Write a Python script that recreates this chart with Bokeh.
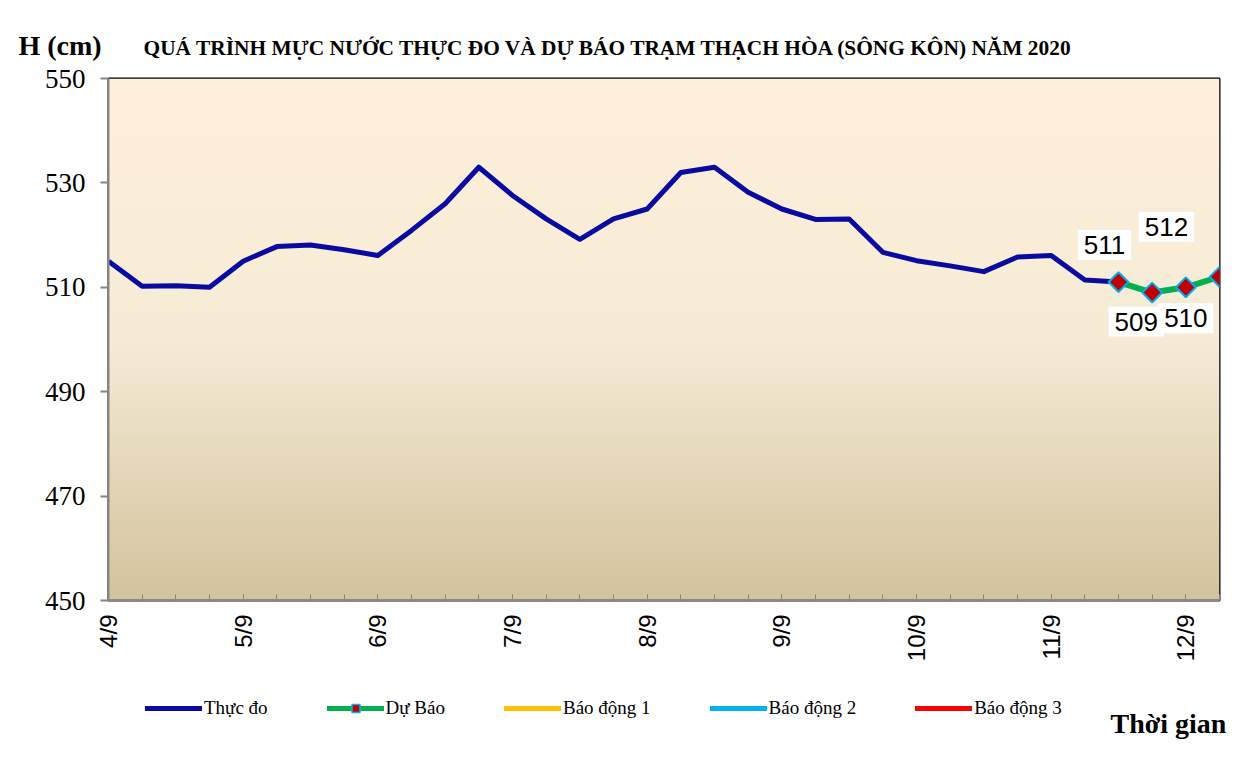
import numpy as np
from bokeh.plotting import figure
from bokeh.layouts import column
from bokeh.models import Range1d, FixedTicker, Label, Legend, LegendItem
from bokeh.embed import file_html
from bokeh.resources import INLINE

# ---------------- data ----------------
day_hours = [0, 24, 48, 72, 96, 120, 144, 168, 192]
day_labels = ["4/9", "5/9", "6/9", "7/9", "8/9", "9/9", "10/9", "11/9", "12/9"]

obs_hours = [0, 6, 12, 18, 24, 30, 36, 42, 48, 54, 60, 66, 72, 78, 84, 90,
             96, 102, 108, 114, 120, 126, 132, 138, 144, 150, 156, 162, 168, 174, 180]
obs_level = [515.0, 510.2, 510.3, 510.0, 515.0, 517.8, 518.1, 517.2, 516.1, 520.9,
             526.0, 533.0, 527.6, 523.1, 519.2, 523.1, 525.0, 532.0, 533.0, 528.2,
             525.0, 523.0, 523.1, 516.7, 515.1, 514.1, 513.0, 515.8, 516.1, 511.4, 511.0]

fc_hours = [180, 186, 192, 198]
fc_level = [511, 509, 510, 512]

y_ticks = [450, 470, 490, 510, 530, 550]

legend_names = ["Thực đo", "Dự Báo", "Báo động 1", "Báo động 2", "Báo động 3"]
title_text = "QUÁ TRÌNH MỰC NƯỚC THỰC ĐO VÀ DỰ BÁO TRẠM THẠCH HÒA (SÔNG KÔN) NĂM  2020"
y_title = "H (cm)"
x_title = "Thời gian"

# colours
c_obs, c_fc, c_fc_marker, c_fc_edge = "#0A0AA0", "#00B050", "#C00000", "#00B0F0"
c_alarm = ["#FFC000", "#00B0F0", "#FF0000"]

# label offsets (style) for forecast value labels
label_offsets = [(-14, 37), (-16, -29), (0, -31), (-53, 50)]

W = 1228
HEAD_H, MAIN_H, FOOT_H = 62, 618, 75

# ---------------- header (titles) ----------------
head = figure(width=W, height=HEAD_H, output_backend="svg", toolbar_location=None,
              x_range=Range1d(0, W), y_range=Range1d(0, HEAD_H),
              x_axis_type=None, y_axis_type=None, min_border=0)
head.frame_align = False
head.outline_line_color = None
head.background_fill_color = "white"
head.border_fill_color = "white"
head.add_layout(Label(x=18, y=HEAD_H - 45, text=y_title, text_color="black",
                      text_font="Liberation Serif", text_font_style="bold",
                      text_font_size="28px", text_baseline="middle", text_align="left"))
head.add_layout(Label(x=143, y=HEAD_H - 47, text=title_text, text_color="black",
                      text_font="Liberation Serif", text_font_style="bold",
                      text_font_size="21.4px", text_baseline="middle", text_align="left"))

# ---------------- main chart ----------------
p = figure(width=W, height=MAIN_H, output_backend="svg", toolbar_location=None,
           x_range=Range1d(0, 198), y_range=Range1d(450, 550),
           min_border_left=108, min_border_right=9, min_border_top=16,
           min_border_bottom=80)
p.frame_align = False
p.xgrid.visible = False
p.ygrid.visible = False
p.background_fill_color = "#F6ECD6"
p.border_fill_color = "white"
p.outline_line_color = "black"
p.outline_line_width = 2

# gradient background of the plot area
stops = [(0.0, (211, 196, 158)), (0.5, (246, 236, 214)), (1.0, (255, 240, 220))]
n = 256
t = np.linspace(0, 1, n)
rgb = np.zeros((n, 3))
for c in range(3):
    rgb[:, c] = np.interp(t, [s[0] for s in stops], [s[1][c] for s in stops])
img = np.zeros((n, 1), dtype=np.uint32)
view = img.view(dtype=np.uint8).reshape((n, 1, 4))
view[:, 0, 0] = rgb[:, 0].astype(np.uint8)
view[:, 0, 1] = rgb[:, 1].astype(np.uint8)
view[:, 0, 2] = rgb[:, 2].astype(np.uint8)
view[:, 0, 3] = 255
xr0, xr1 = p.x_range.start, p.x_range.end
yr0, yr1 = p.y_range.start, p.y_range.end
p.image_rgba(image=[img], x=xr0, y=yr0, dw=xr1 - xr0, dh=yr1 - yr0)

# series
p.line(obs_hours, obs_level, line_color=c_obs, line_width=5, line_join="round")
p.line(fc_hours, fc_level, line_color=c_fc, line_width=6, line_join="round")
p.scatter(fc_hours, fc_level, marker="square", angle=np.pi / 4, size=14,
          fill_color=c_fc_marker, line_color=c_fc_edge, line_width=2)

# value labels
for (xv, yv, (dx, dy)) in zip(fc_hours, fc_level, label_offsets):
    p.add_layout(Label(x=xv, y=yv, text=str(yv), x_offset=dx, y_offset=dy,
                       text_align="center", text_baseline="middle",
                       text_font="Liberation Sans", text_font_size="26px",
                       text_color="black", background_fill_color="white",
                       padding=6))

# axes
yax = p.yaxis[0]
yax.ticker = FixedTicker(ticks=y_ticks)
yax.minor_tick_line_color = None
yax.major_tick_in = 0
yax.major_tick_out = 8
yax.major_tick_line_color = "#868686"
yax.major_tick_line_width = 2
yax.axis_line_color = "#868686"
yax.axis_line_width = 2
yax.major_label_text_font = "Liberation Serif"
yax.major_label_text_font_size = "27px"
yax.major_label_text_color = "black"
yax.major_label_standoff = 15

xax = p.xaxis[0]
xax.ticker = FixedTicker(ticks=day_hours, minor_ticks=obs_hours + fc_hours)
xax.major_label_overrides = {h: l for h, l in zip(day_hours, day_labels)}
xax.major_label_orientation = np.pi / 2
xax.major_label_text_font = "Liberation Sans"
xax.major_label_text_font_size = "24px"
xax.major_label_text_color = "black"
xax.major_label_standoff = 14
xax.major_tick_in = 6
xax.major_tick_out = 0
xax.minor_tick_in = 6
xax.minor_tick_out = 0
xax.major_tick_line_color = "#868686"
xax.minor_tick_line_color = "#868686"
xax.axis_line_color = "#8A8A8A"
xax.axis_line_width = 3

# ---------------- footer (legend + axis title) ----------------
foot = figure(width=W, height=FOOT_H, output_backend="svg", toolbar_location=None,
              x_range=Range1d(0, W), y_range=Range1d(0, FOOT_H),
              x_axis_type=None, y_axis_type=None, min_border=0)
foot.frame_align = False
foot.outline_line_color = None
foot.background_fill_color = "white"
foot.border_fill_color = "white"
# legend swatches: the series re-drawn in this panel, where they fall outside
# its visible range (only the legend glyphs are seen)
f_obs = foot.line(obs_hours, obs_level, line_color=c_obs, line_width=5, line_cap="round")
f_fc = foot.line(fc_hours, fc_level, line_color=c_fc, line_width=5, line_cap="round")
f_fc_m = foot.scatter(fc_hours, fc_level, marker="square", angle=np.pi / 4, size=9,
                      fill_color=c_fc_marker, line_color=c_fc_edge, line_width=1.5)
f_a = [foot.line(fc_hours, fc_level, line_color=col, line_width=5, line_cap="round")
       for col in c_alarm]

legend = Legend(items=[
    LegendItem(label=legend_names[0], renderers=[f_obs]),
    LegendItem(label=legend_names[1], renderers=[f_fc, f_fc_m]),
    LegendItem(label=legend_names[2], renderers=[f_a[0]]),
    LegendItem(label=legend_names[3], renderers=[f_a[1]]),
    LegendItem(label=legend_names[4], renderers=[f_a[2]]),
], orientation="horizontal", location=(145, FOOT_H - (719 - 680)),
    background_fill_alpha=0, border_line_alpha=0,
    label_text_font="Liberation Serif", label_text_font_size="19px",
    label_text_color="black",
    glyph_width=57, glyph_height=20, label_height=20,
    spacing=59, label_standoff=2, padding=0, margin=0)
foot.add_layout(legend)
foot.add_layout(Label(x=1110, y=FOOT_H - (723 - 680), text=x_title, text_color="black",
                      text_font="Liberation Serif", text_font_style="bold",
                      text_font_size="28px", text_baseline="middle", text_align="left"))

layout = column(head, p, foot, spacing=0)
open("out.html", "w").write(file_html(layout, INLINE))
